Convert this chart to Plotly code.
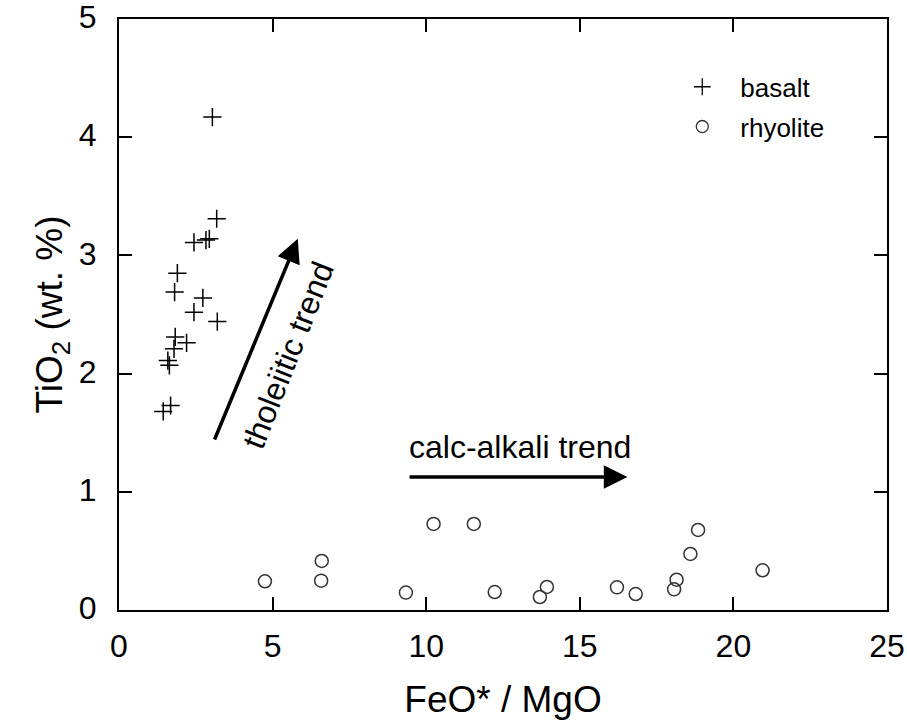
import plotly.graph_objects as go

# Basalt data (FeO*/MgO, TiO2 wt.%)
basalt_x = [3.04, 3.18, 2.44, 2.83, 2.94, 1.90, 1.81, 2.73, 2.44, 3.20, 1.83, 2.20, 1.79, 1.59, 1.64, 1.68, 1.44]
basalt_y = [4.17, 3.31, 3.11, 3.13, 3.14, 2.85, 2.69, 2.64, 2.52, 2.44, 2.31, 2.26, 2.21, 2.11, 2.07, 1.73, 1.68]

# Rhyolite data
rhyolite_x = [4.75, 6.60, 6.58, 9.34, 10.24, 11.55, 12.23, 13.70, 13.93, 16.21, 16.82, 18.07, 18.15, 18.60, 18.85, 20.95]
rhyolite_y = [0.243, 0.415, 0.248, 0.147, 0.728, 0.728, 0.152, 0.110, 0.195, 0.192, 0.135, 0.175, 0.256, 0.474, 0.677, 0.336]

x_ticks = [0, 5, 10, 15, 20, 25]
y_ticks = [0, 1, 2, 3, 4, 5]

# Trend arrows (tail -> tip) and labels
thol_tail = (3.09, 1.43)
thol_tip = (5.82, 3.14)
calc_tail = (9.41, 1.125)
calc_tip = (16.55, 1.125)

FONT = "Arial, Liberation Sans, Helvetica, sans-serif"

fig = go.Figure()
fig.add_trace(go.Scatter(x=basalt_x, y=basalt_y, mode="markers", showlegend=False,
                         marker=dict(symbol="cross-thin", size=13, line=dict(width=1.5, color="black"))))
fig.add_trace(go.Scatter(x=rhyolite_x, y=rhyolite_y, mode="markers", showlegend=False,
                         marker=dict(symbol="circle-open", size=13, color="#333333", line=dict(width=1.5, color="#333333"))))
# legend-only entries
fig.add_trace(go.Scatter(x=[None], y=[None], mode="markers", name="basalt", legendgroup="b",
                         marker=dict(symbol="cross-thin", size=12, line=dict(width=1.3, color="black"))))
fig.add_trace(go.Scatter(x=[None], y=[None], mode="markers", name="rhyolite", legendgroup="r",
                         marker=dict(symbol="circle-open", size=12, color="#333333", line=dict(width=1.3, color="#333333"))))

for tail, tip in [(thol_tail, thol_tip), (calc_tail, calc_tip)]:
    fig.add_annotation(x=tip[0], y=tip[1], ax=tail[0], ay=tail[1], xref="x", yref="y", axref="x", ayref="y",
                       text="", showarrow=True, arrowhead=2, arrowsize=1.35, arrowwidth=3.5, arrowcolor="black")

fig.add_annotation(x=5.50, y=2.16, xref="x", yref="y", text="tholeiitic trend", showarrow=False,
                   textangle=-68.5, font=dict(size=32, color="black", family=FONT))
fig.add_annotation(x=9.38, y=1.38, xref="x", yref="y", text="calc-alkali trend", showarrow=False,
                   xanchor="left", yanchor="middle", font=dict(size=32, color="black", family=FONT))

axis_common = dict(showline=True, linecolor="black", linewidth=2, mirror="allticks", ticks="inside",
                   ticklen=13, tickwidth=1.5, tickcolor="black", showgrid=False, zeroline=False,
                   automargin=False, ticklabeloverflow="allow",
                   tickfont=dict(size=32, color="black", family=FONT))

fig.update_xaxes(range=[0, 25], tickvals=x_ticks, ticktext=[str(v) for v in x_ticks],
                 title=dict(text="FeO* / MgO", font=dict(size=37, color="black", family=FONT), standoff=23),
                 ticklabelstandoff=7, **axis_common)
fig.update_yaxes(range=[0, 5], tickvals=y_ticks, ticktext=[str(v) for v in y_ticks],
                 title=dict(text="TiO<sub>2</sub> (wt. %)", font=dict(size=37, color="black", family=FONT), standoff=5),
                 ticklabelstandoff=14, ticklabelshift=-2, **axis_common)

fig.update_layout(width=907, height=723, margin=dict(l=119, r=20, t=19, b=113),
                  plot_bgcolor="white", paper_bgcolor="white",
                  font=dict(family=FONT, color="black"),
                  legend=dict(x=0.71, y=0.925, xanchor="left", yanchor="top", bgcolor="rgba(0,0,0,0)",
                              tracegroupgap=3,
                              font=dict(size=26, color="black", family=FONT), itemwidth=66))

# remove the default page margin so the figure fills the window exactly
fig.write_html("out.html", config={"displayModeBar": False},
               post_script="document.body.style.margin='0';document.body.style.overflow='hidden';")
